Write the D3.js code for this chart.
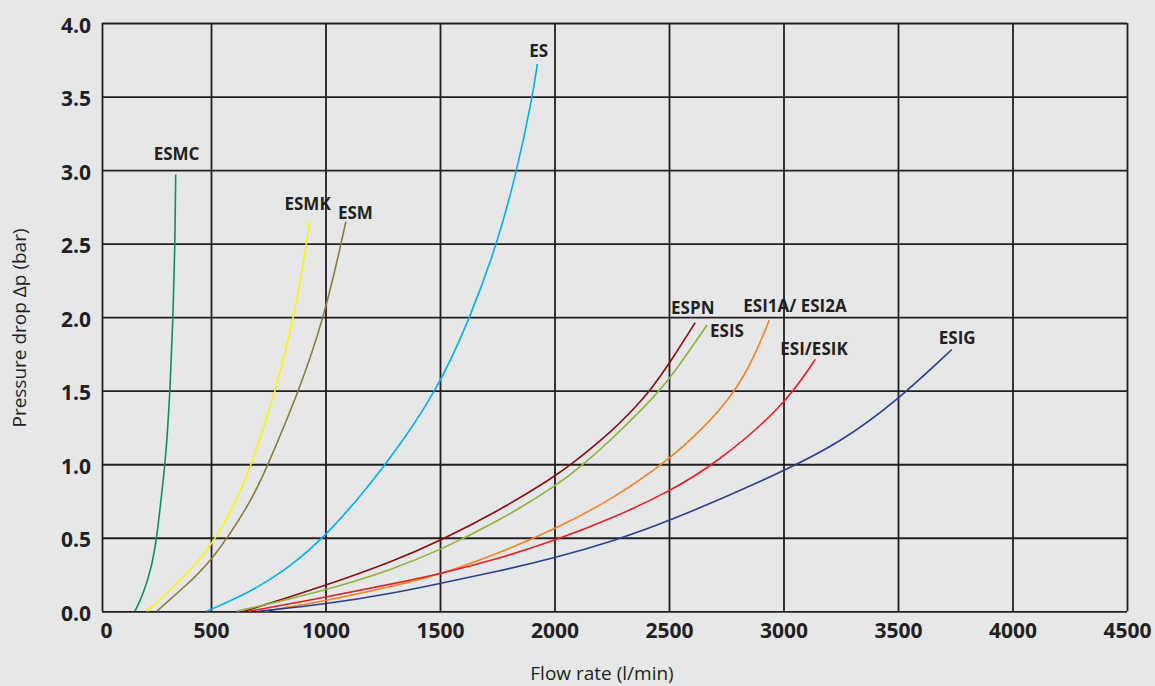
<!DOCTYPE html>
<html>
<head>
<meta charset="utf-8">
<script src="https://cdn.jsdelivr.net/npm/d3@7"></script>
<style>
	body { margin: 0; background: #e6e7e8; }
	svg { display: block; }
	.tickLabel { font-family: 'Open Sans', sans-serif; font-weight: 700; font-size: 21px; fill: #231f20; }
	.seriesLabel { font-family: 'Open Sans', sans-serif; font-weight: 700; font-size: 17px; fill: #231f20; }
	.axisTitle { font-family: 'Open Sans', sans-serif; font-weight: 400; font-size: 19px; fill: #231f20; }
</style>
</head>
<body>
<div id="js_chart"></div>
<script>
'use strict';

// flow rate (l/min) / pressure drop (bar)
const xTicks = [0, 500, 1000, 1500, 2000, 2500, 3000, 3500, 4000, 4500];
const yTicks = [0, 0.5, 1.0, 1.5, 2.0, 2.5, 3.0, 3.5, 4.0];

const seriesNames = ['ESMC', 'ESMK', 'ESM', 'ES', 'ESPN', 'ESIS', 'ESI1A/ ESI2A', 'ESI/ESIK', 'ESIG'];

const esmc = [[151, 0], [190, 0.12], [228, 0.3], [251, 0.5], [271, 0.76], [289, 1.0], [300, 1.21], [312, 1.5], [326, 2.0], [335, 2.5], [338, 2.97]];
const esmk = [[205, 0], [327, 0.16], [450, 0.35], [522, 0.5], [615, 0.76], [677, 1.0], [784, 1.5], [863, 2.0], [918, 2.5], [930, 2.65]];
const esm = [[251, 0], [365, 0.15], [500, 0.33], [682, 0.76], [749, 1.0], [885, 1.5], [994, 2.0], [1068, 2.5], [1089, 2.65]];
const es = [[480, 0], [670, 0.13], [816, 0.27], [1000, 0.5], [1269, 1.0], [1488, 1.5], [1633, 2.0], [1750, 2.5], [1837, 3.0], [1904, 3.5], [1925, 3.72]];
const espn = [[645, 0], [1000, 0.174], [1303, 0.345], [1500, 0.48], [1750, 0.677], [2000, 0.915], [2074, 1.0], [2250, 1.22], [2384, 1.44], [2421, 1.51], [2500, 1.68], [2614, 1.962]];
const esis = [[612, 0], [1000, 0.14], [1303, 0.29], [1500, 0.417], [1750, 0.609], [2000, 0.843], [2128, 1.0], [2250, 1.17], [2400, 1.4], [2500, 1.57], [2666, 1.947]];
const esi1a = [[735, 0], [1000, 0.07], [1303, 0.172], [1500, 0.25], [1750, 0.39], [2000, 0.557], [2250, 0.76], [2475, 1.0], [2650, 1.24], [2793, 1.5], [2875, 1.74], [2938, 1.98]];
const esik = [[665, 0], [1000, 0.095], [1303, 0.19], [1500, 0.255], [1750, 0.355], [2000, 0.48], [2250, 0.63], [2500, 0.813], [2701, 1.0], [3000, 1.39], [3139, 1.713]];
const esig = [[710, 0], [1000, 0.048], [1303, 0.125], [1500, 0.19], [1750, 0.27], [2000, 0.362], [2250, 0.475], [2500, 0.61], [3000, 0.95], [3250, 1.15], [3500, 1.437], [3735, 1.78]];

const seriesData = [esmc, esmk, esm, es, espn, esis, esi1a, esik, esig];

// styles
const seriesColors = ['#0a9350', '#fff200', '#8c7a3c', '#00aeef', '#8e0b0b', '#8db33a', '#f58220', '#ed1c24', '#283f91'];
// label offset from the last point of each curve (px)
const labelOffsets = [[-22, -14], [-25, -12], [-8, -3], [-8, -7], [-24, -9], [3, 12], [-26, -8], [-35, -4], [-13, -6]];
const gridColor = '#231f20';

const width = 1155;
const height = 686;
const plot = { left: 102, right: 1127, top: 23, bottom: 611.3 };

const svg = d3.select('#js_chart').append('svg')
	.attr('width', width)
	.attr('height', height);

svg.append('rect')
	.attr('width', width)
	.attr('height', height)
	.style('fill', '#e6e7e8');

// the first interval (0-500) is a little narrower than the others in the original
const xScale = d3.scaleLinear()
	.domain([0, 500, 4500])
	.range([plot.left, 211, plot.right]);
const yScale = d3.scaleLinear()
	.domain([0, 4])
	.range([plot.bottom, plot.top]);

// x grid + labels
const xAxis = svg.append('g')
	.attr('transform', 'translate(0,' + plot.bottom + ')')
	.call(d3.axisBottom(xScale)
		.tickValues(xTicks)
		.tickFormat(d3.format('d'))
		.tickSizeInner(-(plot.bottom - plot.top))
		.tickSizeOuter(0));
xAxis.select('.domain').remove();
xAxis.selectAll('.tick line').style('stroke', gridColor).style('stroke-width', 1.8);
xAxis.selectAll('.tick text')
	.attr('class', 'tickLabel')
	.attr('y', 27)
	.attr('dy', 0)
	.attr('dx', function (d) { return d === 0 ? 4 : 0; });

// y grid + labels
const yAxis = svg.append('g')
	.attr('transform', 'translate(' + plot.left + ',0)')
	.call(d3.axisLeft(yScale)
		.tickValues(yTicks)
		.tickFormat(d3.format('.1f'))
		.tickSizeInner(-(plot.right - plot.left))
		.tickSizeOuter(0));
yAxis.select('.domain').remove();
yAxis.selectAll('.tick line').style('stroke', gridColor).style('stroke-width', 1.8);
yAxis.selectAll('.tick text')
	.attr('class', 'tickLabel')
	.attr('x', -11)
	.attr('dy', 9);

// curves
const line = d3.line()
	.x(function (d) { return xScale(d[0]); })
	.y(function (d) { return yScale(d[1]); })
	.curve(d3.curveBasis);

const curves = svg.append('g').attr('class', 'curves');
curves.selectAll('path')
	.data(seriesData)
	.enter().append('path')
	.attr('d', line)
	.style('fill', 'none')
	.style('stroke', function (d, i) { return seriesColors[i]; })
	.style('stroke-width', 1.6);

// series labels
svg.append('g').selectAll('text')
	.data(seriesData)
	.enter().append('text')
	.attr('class', 'seriesLabel')
	.attr('x', function (d, i) { return xScale(d[d.length - 1][0]) + labelOffsets[i][0]; })
	.attr('y', function (d, i) { return yScale(d[d.length - 1][1]) + labelOffsets[i][1]; })
	.text(function (d, i) { return seriesNames[i]; });

// axis titles
svg.append('text')
	.attr('class', 'axisTitle')
	.attr('x', 602)
	.attr('y', 680)
	.attr('text-anchor', 'middle')
	.text('Flow rate (l/min)');

svg.append('text')
	.attr('class', 'axisTitle')
	.attr('transform', 'translate(26,328) rotate(-90)')
	.attr('text-anchor', 'middle')
	.text('Pressure drop \u0394p (bar)');
</script>
</body>
</html>
